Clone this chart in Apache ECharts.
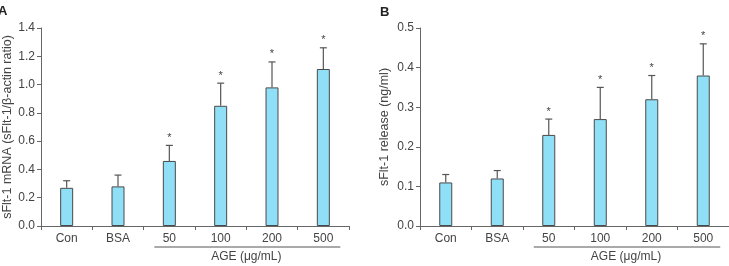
<!DOCTYPE html>
<html>
<head>
<meta charset="utf-8">
<script src="https://cdn.jsdelivr.net/npm/echarts@6/dist/echarts.min.js"></script>
<style>
  html, body { margin: 0; padding: 0; background: #fff; }
  #chart { width: 729px; height: 266px; }
</style>
</head>
<body>
<div id="chart"></div>
<script>
// categories shared by both panels
const categories = ['Con', 'BSA', '50', '100', '200', '500']

// panel A: sFlt-1 mRNA ratio
const mrnaMean = [0.27, 0.28, 0.46, 0.85, 0.98, 1.11]
const mrnaErr = [0.05, 0.08, 0.11, 0.16, 0.18, 0.15]
// panel B: sFlt-1 release
const releaseMean = [0.11, 0.12, 0.23, 0.27, 0.32, 0.38]
const releaseErr = [0.02, 0.02, 0.04, 0.08, 0.06, 0.08]
// significance marks (*)
const mrnaSig = [false, false, true, true, true, true]
const releaseSig = [false, false, true, true, true, true]

const FONT = '"Liberation Sans", Arial, sans-serif'
const AXIS = '#666'
const TEXT = '#444'
const BAR = '#8fdff6'

const chart = echarts.init(document.getElementById('chart'), null, { renderer: 'canvas' })

function xAxisFor(gridIndex) {
  return {
    type: 'category',
    gridIndex,
    data: categories,
    axisLine: { lineStyle: { color: AXIS, width: 1 } },
    axisTick: { show: true, length: 4, inside: false, lineStyle: { color: AXIS } },
    axisLabel: { color: TEXT, fontSize: 12, fontFamily: FONT, margin: 7 },
  }
}

function yAxisFor(gridIndex, max, interval, name, nameGap) {
  return {
    type: 'value',
    gridIndex,
    min: 0,
    max,
    interval,
    name,
    nameLocation: 'middle',
    nameGap,
    nameTextStyle: { color: TEXT, fontSize: 12.5, fontFamily: FONT },
    axisLine: { show: true, lineStyle: { color: AXIS, width: 1 } },
    axisTick: { show: true, length: 4, lineStyle: { color: AXIS } },
    axisLabel: {
      color: TEXT, fontSize: 12, fontFamily: FONT, margin: 6,
      formatter: v => v.toFixed(1),
    },
    splitLine: { show: false },
  }
}

// vertical error bar (upper only) with a cap, plus the star above it
function errorSeries(axisIdx, means, errs, sigs) {
  return {
    type: 'custom',
    xAxisIndex: axisIdx,
    yAxisIndex: axisIdx,
    data: means.map((m, i) => [i, m, m + errs[i], sigs[i] ? 1 : 0]),
    renderItem: (params, api) => {
      const base = api.coord([api.value(0), api.value(1)])
      const top = api.coord([api.value(0), api.value(2)])
      const x = base[0]
      const style = { stroke: '#555', lineWidth: 1.2 }
      const children = [
        { type: 'line', shape: { x1: x, y1: base[1], x2: x, y2: top[1] }, style },
        { type: 'line', shape: { x1: x - 3.5, y1: top[1], x2: x + 3.5, y2: top[1] }, style },
      ]
      if (api.value(3)) {
        children.push({
          type: 'text',
          style: {
            text: '*', x, y: top[1] - 2, align: 'center', verticalAlign: 'bottom',
            fontSize: 11, fontFamily: FONT, fill: '#444',
          },
        })
      }
      return { type: 'group', children }
    },
    z: 3,
  }
}

function barSeries(axisIdx, means) {
  return {
    type: 'bar',
    xAxisIndex: axisIdx,
    yAxisIndex: axisIdx,
    data: means,
    barWidth: 13,
    itemStyle: { color: BAR, borderColor: '#4a4a4a', borderWidth: 1 },
    z: 2,
  }
}

chart.setOption({
  animation: false,
  grid: [
    { left: 37, top: 28, width: 312, height: 198 },
    { left: 420, top: 28, width: 312, height: 198 },
  ],
  xAxis: [xAxisFor(0), xAxisFor(1)],
  yAxis: [
    yAxisFor(0, 1.4, 0.2, 'sFlt-1 mRNA (sFlt-1/β-actin ratio)', 27),
    yAxisFor(1, 0.5, 0.1, 'sFlt-1 release (ng/ml)', 29),
  ],
  series: [
    barSeries(0, mrnaMean),
    errorSeries(0, mrnaMean, mrnaErr, mrnaSig),
    barSeries(1, releaseMean),
    errorSeries(1, releaseMean, releaseErr, releaseSig),
  ],
})

// group bracket under 50..500 and the "AGE (μg/mL)" caption, placed via axis scales
const graphics = [
  { type: 'text', left: -2, top: 5, style: { text: 'A', fontSize: 13, fontWeight: 'bold', fontFamily: FONT, fill: '#222' } },
  { type: 'text', left: 380, top: 6, style: { text: 'B', fontSize: 13, fontWeight: 'bold', fontFamily: FONT, fill: '#222' } },
]
;[0, 1].forEach(idx => {
  const first = chart.convertToPixel({ xAxisIndex: idx, yAxisIndex: idx }, ['50', 0])
  const last = chart.convertToPixel({ xAxisIndex: idx, yAxisIndex: idx }, ['500', 0])
  const y = first[1] + 21
  graphics.push({
    type: 'line',
    shape: { x1: first[0] - 15, y1: y, x2: last[0] + 17, y2: y },
    style: { stroke: '#555', lineWidth: 1 },
  })
  graphics.push({
    type: 'text',
    x: (first[0] + last[0]) / 2,
    y: y + 4,
    style: {
      text: 'AGE (μg/mL)', align: 'center', verticalAlign: 'top',
      fontSize: 12, fontFamily: FONT, fill: TEXT,
    },
  })
})
chart.setOption({ graphic: graphics })
</script>
</body>
</html>
